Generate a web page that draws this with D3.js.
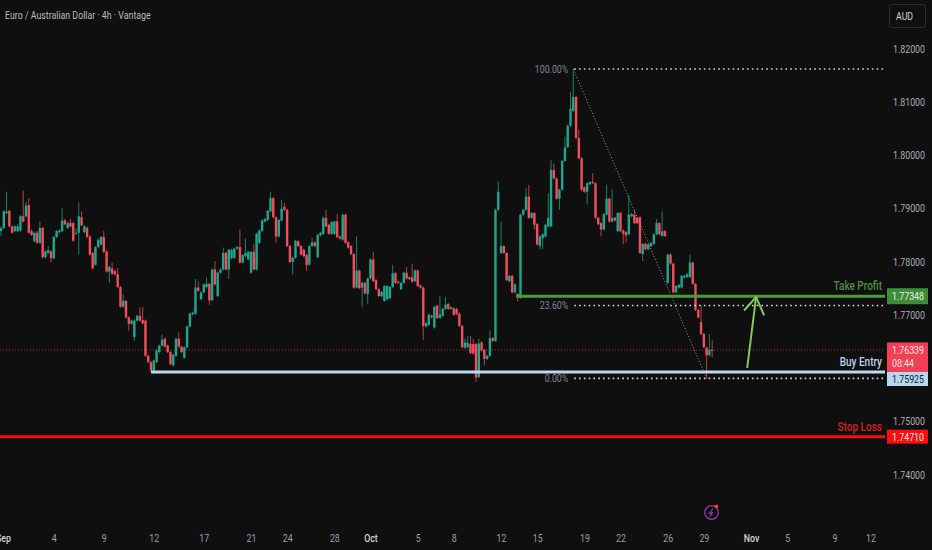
<!DOCTYPE html>
<html>
<head>
<meta charset="utf-8">
<script src="https://cdn.jsdelivr.net/npm/d3@7"></script>
<style>
  html, body { margin: 0; padding: 0; background: #0f0f0f; }
  svg { display: block; }
  text { font-family: Roboto, sans-serif; }
</style>
</head>
<body>
<div id="chart"></div>
<script>
// candles (EUR/AUD 4h)
var opens = [
  1.7857,1.7863,1.7891,1.7895,1.7866,1.7857,1.7857,1.7858,1.7885,1.7885,
  1.7906,1.7857,1.7838,1.7854,1.7835,1.7863,1.7808,1.7816,1.7819,1.7806,
  1.7846,1.7855,1.7857,1.7877,1.7863,1.7872,1.7872,1.7852,1.7854,1.7883,
  1.7855,1.7863,1.7847,1.7816,1.7794,1.7827,1.7832,1.7846,1.7819,1.7781,
  1.7787,1.7782,1.7776,1.7752,1.7715,1.7726,1.7695,1.7683,1.7658,1.7689,
  1.7698,1.7690,1.7689,1.7623,1.7611,1.7595,1.7611,1.7630,1.7642,1.7655,
  1.7642,1.7630,1.7605,1.7623,1.7655,1.7640,1.7619,1.7639,1.7678,1.7701,
  1.7702,1.7751,1.7729,1.7742,1.7752,1.7758,1.7727,1.7785,1.7735,1.7779,
  1.7785,1.7816,1.7785,1.7806,1.7807,1.7824,1.7827,1.7798,1.7810,1.7804,
  1.7779,1.7818,1.7785,1.7835,1.7857,1.7875,1.7878,1.7894,1.7919,1.7883,
  1.7847,1.7877,1.7903,1.7897,1.7829,1.7799,1.7807,1.7838,1.7829,1.7822,
  1.7812,1.7794,1.7829,1.7836,1.7808,1.7849,1.7852,1.7882,1.7869,1.7852,
  1.7852,1.7875,1.7847,1.7841,1.7888,1.7836,1.7829,1.7814,1.7751,1.7783,
  1.7751,1.7760,1.7739,1.7768,1.7804,1.7765,1.7748,1.7735,1.7726,1.7729,
  1.7731,1.7752,1.7778,1.7762,1.7748,1.7760,1.7779,1.7770,1.7770,1.7763,
  1.7783,1.7755,1.7751,1.7678,1.7681,1.7698,1.7676,1.7717,1.7694,1.7698,
  1.7711,1.7720,1.7711,1.7712,1.7711,1.7702,1.7679,1.7638,1.7639,1.7645,
  1.7645,1.7645,1.7583,1.7648,1.7634,1.7617,1.7623,1.7656,1.7651,1.7897,
  1.7816,1.7829,1.7816,1.7763,1.7773,1.7742,1.7739,1.7732,1.7888,1.7897,
  1.7922,1.7882,1.7891,1.7870,1.7829,1.7844,1.7847,1.7866,1.7866,1.7972,
  1.7956,1.7918,1.7935,1.7989,1.8015,1.8055,1.8083,1.8109,1.8032,1.7994,
  1.7939,1.7931,1.7945,1.7949,1.7947,1.7882,1.7872,1.7860,1.7888,1.7918,
  1.7875,1.7882,1.7857,1.7891,1.7858,1.7855,1.7851,1.7885,1.7888,1.7882,
  1.7883,1.7814,1.7833,1.7823,1.7829,1.7833,1.7851,1.7872,1.7848,1.7857,
  1.7760,1.7813,1.7796,1.7742,1.7751,1.7751,1.7770,1.7771,1.7771,1.7798,
  1.7758,1.7709,1.7686,1.7664,1.7638,1.7624,1.7634
];
var closes = [
  1.7863,1.7894,1.7894,1.7866,1.7854,1.7866,1.7866,1.7885,1.7875,1.7905,
  1.7854,1.7850,1.7854,1.7835,1.7863,1.7808,1.7819,1.7821,1.7806,1.7846,
  1.7857,1.7858,1.7877,1.7870,1.7872,1.7866,1.7839,1.7854,1.7885,1.7868,
  1.7866,1.7846,1.7813,1.7787,1.7827,1.7841,1.7846,1.7818,1.7781,1.7790,
  1.7777,1.7776,1.7752,1.7715,1.7726,1.7695,1.7683,1.7689,1.7689,1.7698,
  1.7689,1.7684,1.7623,1.7611,1.7595,1.7614,1.7633,1.7642,1.7653,1.7640,
  1.7630,1.7607,1.7625,1.7655,1.7640,1.7630,1.7639,1.7678,1.7702,1.7704,
  1.7751,1.7745,1.7742,1.7757,1.7758,1.7727,1.7785,1.7757,1.7779,1.7785,
  1.7816,1.7785,1.7822,1.7822,1.7824,1.7827,1.7798,1.7812,1.7816,1.7818,
  1.7818,1.7785,1.7852,1.7858,1.7877,1.7880,1.7895,1.7919,1.7883,1.7847,
  1.7878,1.7899,1.7897,1.7829,1.7799,1.7807,1.7839,1.7829,1.7813,1.7810,
  1.7793,1.7829,1.7836,1.7829,1.7850,1.7854,1.7882,1.7866,1.7852,1.7874,
  1.7875,1.7846,1.7843,1.7888,1.7835,1.7826,1.7814,1.7751,1.7783,1.7750,
  1.7760,1.7740,1.7768,1.7804,1.7763,1.7748,1.7735,1.7743,1.7754,1.7754,
  1.7752,1.7778,1.7760,1.7760,1.7760,1.7779,1.7768,1.7767,1.7762,1.7783,
  1.7754,1.7751,1.7679,1.7684,1.7700,1.7695,1.7715,1.7694,1.7700,1.7711,
  1.7719,1.7711,1.7714,1.7700,1.7701,1.7679,1.7639,1.7648,1.7647,1.7628,
  1.7627,1.7582,1.7646,1.7633,1.7617,1.7623,1.7656,1.7651,1.7897,1.7931,
  1.7829,1.7816,1.7765,1.7773,1.7742,1.7757,1.7732,1.7888,1.7897,1.7922,
  1.7882,1.7891,1.7869,1.7832,1.7847,1.7851,1.7869,1.7882,1.7972,1.7956,
  1.7918,1.7935,1.7989,1.8014,1.8055,1.8087,1.8109,1.8032,1.7994,1.7935,
  1.7931,1.7947,1.7949,1.7947,1.7882,1.7870,1.7860,1.7889,1.7918,1.7875,
  1.7882,1.7877,1.7891,1.7857,1.7852,1.7849,1.7888,1.7889,1.7872,1.7872,
  1.7816,1.7833,1.7823,1.7832,1.7835,1.7851,1.7872,1.7851,1.7857,1.7848,
  1.7813,1.7796,1.7742,1.7754,1.7756,1.7773,1.7773,1.7776,1.7798,1.7758,
  1.7709,1.7695,1.7664,1.7639,1.7624,1.7634,1.7632
];
var highs = [
  1.7866,1.7896,1.7931,1.7897,1.7868,1.7868,1.7870,1.7887,1.7933,1.7912,
  1.7919,1.7860,1.7856,1.7857,1.7875,1.7865,1.7821,1.7829,1.7821,1.7848,
  1.7859,1.7860,1.7900,1.7880,1.7875,1.7880,1.7875,1.7862,1.7911,1.7894,
  1.7868,1.7866,1.7849,1.7818,1.7829,1.7843,1.7848,1.7857,1.7821,1.7792,
  1.7798,1.7785,1.7788,1.7754,1.7738,1.7728,1.7697,1.7691,1.7691,1.7700,
  1.7714,1.7715,1.7691,1.7625,1.7613,1.7616,1.7635,1.7644,1.7663,1.7657,
  1.7644,1.7632,1.7627,1.7657,1.7667,1.7642,1.7641,1.7680,1.7704,1.7706,
  1.7767,1.7763,1.7744,1.7759,1.7770,1.7760,1.7787,1.7801,1.7781,1.7787,
  1.7826,1.7818,1.7824,1.7824,1.7826,1.7829,1.7860,1.7814,1.7843,1.7820,
  1.7820,1.7832,1.7854,1.7860,1.7879,1.7882,1.7897,1.7931,1.7921,1.7885,
  1.7880,1.7916,1.7910,1.7899,1.7831,1.7809,1.7841,1.7840,1.7831,1.7824,
  1.7814,1.7831,1.7844,1.7838,1.7852,1.7856,1.7884,1.7897,1.7871,1.7876,
  1.7877,1.7889,1.7849,1.7890,1.7890,1.7838,1.7831,1.7816,1.7847,1.7785,
  1.7762,1.7762,1.7770,1.7806,1.7818,1.7767,1.7750,1.7745,1.7756,1.7756,
  1.7754,1.7794,1.7780,1.7764,1.7762,1.7781,1.7790,1.7772,1.7796,1.7785,
  1.7785,1.7757,1.7753,1.7686,1.7702,1.7700,1.7717,1.7719,1.7735,1.7713,
  1.7733,1.7722,1.7716,1.7714,1.7713,1.7704,1.7681,1.7655,1.7660,1.7660,
  1.7655,1.7647,1.7655,1.7650,1.7636,1.7625,1.7671,1.7658,1.7899,1.7950,
  1.7875,1.7831,1.7818,1.7775,1.7775,1.7759,1.7741,1.7890,1.7899,1.7938,
  1.7944,1.7893,1.7893,1.7872,1.7849,1.7853,1.7871,1.7928,1.7990,1.7984,
  1.7958,1.7937,1.7991,1.8034,1.8057,1.8118,1.8162,1.8111,1.8048,1.7996,
  1.7941,1.7949,1.7951,1.7966,1.7949,1.7884,1.7874,1.7891,1.7944,1.7920,
  1.7935,1.7884,1.7893,1.7893,1.7860,1.7857,1.7925,1.7891,1.7897,1.7884,
  1.7885,1.7835,1.7835,1.7834,1.7837,1.7853,1.7880,1.7874,1.7894,1.7859,
  1.7815,1.7815,1.7798,1.7756,1.7758,1.7775,1.7775,1.7778,1.7813,1.7800,
  1.7760,1.7711,1.7717,1.7666,1.7640,1.7664,1.7652
];
var lows = [
  1.7847,1.7861,1.7889,1.7864,1.7852,1.7855,1.7855,1.7856,1.7873,1.7883,
  1.7852,1.7848,1.7836,1.7833,1.7833,1.7806,1.7805,1.7814,1.7798,1.7804,
  1.7844,1.7853,1.7855,1.7868,1.7861,1.7864,1.7837,1.7850,1.7813,1.7866,
  1.7853,1.7844,1.7811,1.7785,1.7792,1.7825,1.7830,1.7816,1.7779,1.7760,
  1.7775,1.7774,1.7750,1.7713,1.7713,1.7693,1.7670,1.7681,1.7651,1.7687,
  1.7687,1.7682,1.7621,1.7609,1.7593,1.7593,1.7609,1.7628,1.7640,1.7638,
  1.7628,1.7605,1.7603,1.7621,1.7638,1.7628,1.7617,1.7637,1.7676,1.7699,
  1.7700,1.7743,1.7727,1.7740,1.7750,1.7719,1.7725,1.7755,1.7733,1.7777,
  1.7783,1.7783,1.7767,1.7804,1.7805,1.7822,1.7796,1.7796,1.7808,1.7802,
  1.7777,1.7783,1.7783,1.7833,1.7855,1.7873,1.7876,1.7892,1.7881,1.7835,
  1.7845,1.7875,1.7895,1.7827,1.7797,1.7776,1.7805,1.7827,1.7811,1.7808,
  1.7782,1.7792,1.7827,1.7827,1.7806,1.7847,1.7850,1.7864,1.7850,1.7850,
  1.7850,1.7844,1.7841,1.7839,1.7833,1.7824,1.7812,1.7749,1.7749,1.7748,
  1.7714,1.7738,1.7721,1.7766,1.7761,1.7746,1.7733,1.7733,1.7724,1.7727,
  1.7729,1.7750,1.7758,1.7758,1.7746,1.7758,1.7766,1.7765,1.7760,1.7761,
  1.7752,1.7749,1.7653,1.7676,1.7679,1.7693,1.7674,1.7692,1.7692,1.7696,
  1.7709,1.7709,1.7709,1.7698,1.7699,1.7677,1.7637,1.7636,1.7637,1.7626,
  1.7625,1.7574,1.7581,1.7631,1.7605,1.7615,1.7621,1.7649,1.7649,1.7895,
  1.7814,1.7814,1.7763,1.7761,1.7740,1.7740,1.7725,1.7730,1.7886,1.7895,
  1.7880,1.7880,1.7860,1.7830,1.7823,1.7823,1.7845,1.7864,1.7864,1.7954,
  1.7916,1.7897,1.7933,1.7987,1.8013,1.8053,1.8081,1.8030,1.7992,1.7933,
  1.7929,1.7907,1.7943,1.7945,1.7880,1.7868,1.7847,1.7858,1.7886,1.7873,
  1.7873,1.7875,1.7855,1.7855,1.7832,1.7835,1.7849,1.7883,1.7870,1.7870,
  1.7814,1.7801,1.7821,1.7821,1.7827,1.7831,1.7849,1.7849,1.7846,1.7846,
  1.7758,1.7794,1.7740,1.7740,1.7749,1.7749,1.7768,1.7769,1.7769,1.7756,
  1.7707,1.7693,1.7662,1.7637,1.7581,1.7622,1.7620
];

// axes
var priceTicks = [1.82, 1.81, 1.80, 1.79, 1.78, 1.77, 1.75, 1.74];
var timeTicks = [0.7, 19, 37, 55, 73, 90, 103, 120, 133, 150, 163, 180, 193, 210, 223, 240, 253, 270, 283, 300, 313];
var timeLabels = ["Sep", "4", "9", "12", "17", "21", "24", "28", "Oct", "5", "8", "12", "15", "19", "22", "26", "29", "Nov", "5", "9", "12"];
var boldLabels = ["Sep", "Oct", "Nov"];

// drawn levels
var takeProfit = 1.77348, buyEntry = 1.75925, stopLoss = 1.74710, lastPrice = 1.76339;
var takeProfitStart = 185.5, buyEntryStart = 54;
var fibLevels = [1.81615, 1.77175, 1.75805];
var fibLabels = ["100.00%", "23.60%", "0.00%"];
var fibStart = 206, fibEnd = 254;
var arrowFrom = [268.6, 1.76], arrowTip = [271.8, 1.7733], arrowLeft = [267.5, 1.7708], arrowRight = [274.7, 1.7699];

var svgWidth = 932, svgHeight = 550, plotRight = 885;
var up = "#1fa68f", down = "#f24e5c";

var svg = d3.select("#chart").append("svg")
  .attr("width", svgWidth)
  .attr("height", svgHeight);

var x = d3.scaleLinear().domain([0, 100]).range([1, 278.8]);
var y = d3.scaleLinear().domain([1.74, 1.82]).range([474.5, 48.5]);

svg.append("rect").attr("width", svgWidth).attr("height", svgHeight).attr("fill", "#0f0f0f");

// last price line goes under the candles
svg.append("line")
  .attr("x1", 0).attr("x2", plotRight)
  .attr("y1", y(lastPrice)).attr("y2", y(lastPrice))
  .attr("stroke", "#a5303a").attr("stroke-width", 1).attr("stroke-dasharray", "1 2");

// candles
var candles = svg.append("g").selectAll("g")
  .data(d3.range(opens.length))
  .enter().append("g");

candles.append("line")
  .attr("x1", i => x(i)).attr("x2", i => x(i))
  .attr("y1", i => y(highs[i])).attr("y2", i => y(lows[i]))
  .attr("stroke", i => closes[i] >= opens[i] ? up : down)
  .attr("stroke-opacity", 0.75)
  .attr("stroke-width", 1);

candles.append("rect")
  .attr("x", i => x(i) - 1.2)
  .attr("width", 2.4)
  .attr("y", i => y(Math.max(opens[i], closes[i])))
  .attr("height", i => Math.max(1, Math.abs(y(opens[i]) - y(closes[i]))))
  .attr("fill", i => closes[i] >= opens[i] ? up : down);

// fib retracement
svg.append("line")
  .attr("x1", x(fibStart)).attr("y1", y(fibLevels[0]))
  .attr("x2", x(fibEnd)).attr("y2", y(fibLevels[2]))
  .attr("stroke", "#9a9a9a").attr("stroke-width", 1).attr("stroke-dasharray", "1 2");

fibLevels.forEach(function(level, i) {
  svg.append("line")
    .attr("x1", x(fibStart) + 1).attr("x2", plotRight)
    .attr("y1", y(level)).attr("y2", y(level))
    .attr("stroke", "#d8d8d8").attr("stroke-width", 1.6).attr("stroke-dasharray", "1.6 3.2");
  svg.append("text")
    .attr("x", x(fibStart) - 5).attr("y", y(level))
    .attr("dy", "0.35em").attr("text-anchor", "end")
    .attr("font-size", 11).attr("fill", "#7f8496")
    .text(fibLabels[i]);
});

// trade levels
svg.append("line")
  .attr("x1", x(takeProfitStart)).attr("x2", plotRight)
  .attr("y1", y(takeProfit)).attr("y2", y(takeProfit))
  .attr("stroke", "#4c9a3c").attr("stroke-width", 3);
svg.append("line")
  .attr("x1", x(buyEntryStart)).attr("x2", plotRight)
  .attr("y1", y(buyEntry)).attr("y2", y(buyEntry))
  .attr("stroke", "#bcd9f2").attr("stroke-width", 3);
svg.append("line")
  .attr("x1", 0).attr("x2", plotRight)
  .attr("y1", y(stopLoss)).attr("y2", y(stopLoss))
  .attr("stroke", "#f70d0d").attr("stroke-width", 3);

var levelNames = [
  ["Take Profit", takeProfit, "#4c8f3f"],
  ["Buy Entry", buyEntry, "#bcd4ea"],
  ["Stop Loss", stopLoss, "#d4201c"]
];
svg.selectAll(".levelName")
  .data(levelNames)
  .enter().append("text")
  .attr("class", "levelName")
  .attr("x", 882).attr("y", d => y(d[1]) - 6)
  .attr("text-anchor", "end")
  .attr("font-size", 12.5).attr("font-weight", 500)
  .attr("fill", d => d[2])
  .text(d => d[0]);

// arrow
svg.append("path")
  .attr("d", d3.line()([[x(arrowFrom[0]), y(arrowFrom[1])], [x(arrowTip[0]), y(arrowTip[1])]]))
  .attr("fill", "none").attr("stroke", "#86c95a").attr("stroke-width", 2);
svg.append("path")
  .attr("d", d3.line()([[x(arrowLeft[0]), y(arrowLeft[1])], [x(arrowTip[0]), y(arrowTip[1])], [x(arrowRight[0]), y(arrowRight[1])]]))
  .attr("fill", "none").attr("stroke", "#86c95a").attr("stroke-width", 2);

// price axis
var priceAxis = svg.append("g")
  .attr("transform", "translate(" + plotRight + ",0)")
  .call(d3.axisRight(y).tickValues(priceTicks).tickSize(0).tickPadding(8).tickFormat(d3.format(".5f")));
priceAxis.select(".domain").remove();
priceAxis.selectAll("text")
  .attr("font-family", "Roboto, sans-serif")
  .attr("font-size", 11).attr("fill", "#a9adb8");

// price boxes
function priceBox(top, h, fill, textFill, lines) {
  svg.append("rect")
    .attr("x", 887).attr("y", top).attr("width", 41).attr("height", h)
    .attr("fill", fill);
  lines.forEach(function(t, i) {
    svg.append("text")
      .attr("x", 892).attr("y", top + 11.5 + i * 13.5)
      .attr("font-size", 11).attr("fill", textFill)
      .text(t);
  });
}
priceBox(y(takeProfit) - 8, 16, "#3f8c38", "#e6f0e4", [d3.format(".5f")(takeProfit)]);
priceBox(y(lastPrice) - 7.5, 30, "#f23f54", "#ffe4e6", [d3.format(".5f")(lastPrice), "08:44"]);
priceBox(y(buyEntry), 14, "#b8d6f0", "#16222c", [d3.format(".5f")(buyEntry)]);
priceBox(y(stopLoss) - 7, 14, "#fb0d0d", "#ffe8e8", [d3.format(".5f")(stopLoss)]);

// time axis
var timeAxis = svg.append("g")
  .attr("transform", "translate(0,530)")
  .call(d3.axisBottom(x).tickValues(timeTicks).tickSize(0).tickPadding(4)
    .tickFormat((d, i) => timeLabels[i]));
timeAxis.select(".domain").remove();
timeAxis.selectAll("text")
  .attr("font-family", "Roboto, sans-serif")
  .attr("font-size", 11)
  .attr("font-weight", (d, i) => boldLabels.indexOf(timeLabels[i]) >= 0 ? 500 : 400)
  .attr("fill", (d, i) => boldLabels.indexOf(timeLabels[i]) >= 0 ? "#d1d4dc" : "#9a9ea8");

// title + currency button
svg.append("text")
  .attr("x", 5).attr("y", 19)
  .attr("font-size", 11).attr("fill", "#b8bbc4")
  .text("Euro / Australian Dollar · 4h · Vantage");

svg.append("rect")
  .attr("x", 889.5).attr("y", 4.5).attr("width", 36).attr("height", 23).attr("rx", 3)
  .attr("fill", "none").attr("stroke", "#2e2e2e");
svg.append("text")
  .attr("x", 896).attr("y", 20)
  .attr("font-size", 11).attr("fill", "#d1d4dc")
  .text("AUD");

// earnings/event marker
var marker = svg.append("g").attr("transform", "translate(711.5,512.5)");
marker.append("circle").attr("r", 6.8).attr("fill", "none").attr("stroke", "#8e3ca4").attr("stroke-width", 1.3);
marker.append("path").attr("d", "M1.5,-4 L-2,0.8 L1,0.3 L-1.5,4").attr("fill", "none").attr("stroke", "#8e3ca4").attr("stroke-width", 1.2);
marker.append("circle").attr("cx", 4.8).attr("cy", -6.2).attr("r", 1.9).attr("fill", "#f23645");

// the screenshot is squeezed sideways, so narrow all the text the same way
svg.selectAll("text").each(function() {
  d3.select(this)
    .attr("textLength", this.getComputedTextLength() * 0.8)
    .attr("lengthAdjust", "spacingAndGlyphs");
});
</script>
</body>
</html>
